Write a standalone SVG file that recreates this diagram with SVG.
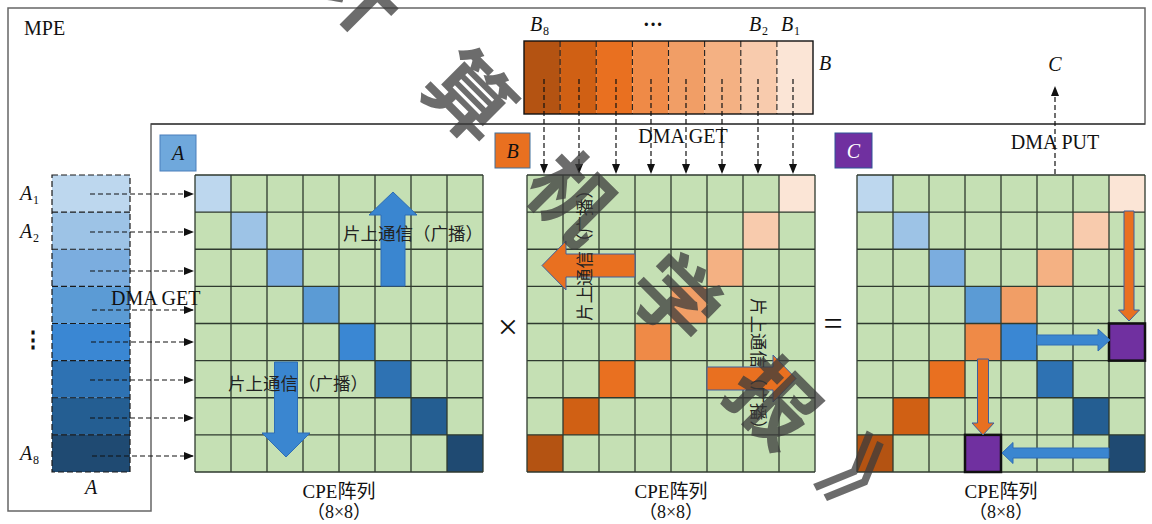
<svg xmlns="http://www.w3.org/2000/svg" xmlns:xlink="http://www.w3.org/1999/xlink" width="1152" height="524" viewBox="0 0 1152 524">
<defs>
<style>
.t{font-family:"Liberation Serif","Noto Sans CJK SC",serif;fill:#111}
.m{font-family:"Liberation Serif",serif;font-style:italic;font-size:20px;fill:#111}
.sub{font-family:"Liberation Serif",serif;font-size:12px;fill:#111}
.cn{font-family:"Liberation Serif","Noto Sans CJK SC",sans-serif;font-size:17.5px;fill:#222}
.dash{fill:none;stroke:#111;stroke-width:1.2;stroke-dasharray:5,3}
.gl{fill:none;stroke:#2f3a2f;stroke-width:1.3}
.green{fill:#C5E0B4}
.barrow{fill:#3A86D0;stroke:#2E6DB4;stroke-width:1}
.oarrow{fill:#E97020;stroke:#3F5F9C;stroke-width:1}
.wm{font-family:"Noto Sans CJK SC",sans-serif;font-size:85px;font-weight:700;fill:#3c3c3c;opacity:0.75}
</style>
<marker id="ah" markerWidth="10" markerHeight="8" refX="10" refY="4" orient="auto" markerUnits="userSpaceOnUse">
<path d="M0,0 L10,4 L0,8 z" fill="#111"/>
</marker>
<path id="gridlines" class="gl" d="M0 0V297M36 0V297M72 0V297M108 0V297M144 0V297M180 0V297M216 0V297M252 0V297M288 0V297M0 0H288M0 37.125H288M0 74.25H288M0 111.375H288M0 148.5H288M0 185.625H288M0 222.75H288M0 259.875H288M0 297H288"/>
</defs>
<rect width="1152" height="524" fill="#fff"/>

<g id="MPE">
<path d="M8 8H1145V124H151V511H8Z" fill="none" stroke="#666" stroke-width="1.5"/>
<path d="M151 124H1145" stroke="#222" stroke-width="1"/>
<text class="t" x="24" y="35" font-size="20">MPE</text>
</g>

<g id="A-vector">
<rect x="52" y="175" width="78" height="37.125" fill="#BDD7EE"/>
<rect x="52" y="212.125" width="78" height="37.125" fill="#9DC3E6"/>
<rect x="52" y="249.25" width="78" height="37.125" fill="#7BADDF"/>
<rect x="52" y="286.375" width="78" height="37.125" fill="#5B9BD5"/>
<rect x="52" y="323.5" width="78" height="37.125" fill="#3A87D3"/>
<rect x="52" y="360.625" width="78" height="37.125" fill="#2E72B3"/>
<rect x="52" y="397.75" width="78" height="37.125" fill="#245E92"/>
<rect x="52" y="434.875" width="78" height="37.125" fill="#1F4A72"/>
<path d="M52 212.125H130M52 249.25H130M52 286.375H130M52 323.5H130M52 360.625H130M52 397.75H130M52 434.875H130M52 175H130V472H52Z" fill="none" stroke="#1a1a1a" stroke-width="1.2" stroke-dasharray="6,3"/>
<text class="m" x="20" y="200">A</text><text class="sub" x="33" y="204">1</text>
<text class="m" x="20" y="238">A</text><text class="sub" x="33" y="242">2</text>
<text class="t" x="33" y="347" font-size="22" font-weight="bold" text-anchor="middle">⋮</text>
<text class="m" x="20" y="460">A</text><text class="sub" x="33" y="464">8</text>
<text class="m" x="91" y="494" text-anchor="middle">A</text>
</g>

<g id="B-vector">
<rect x="524" y="41" width="36.2" height="73" fill="#B45312"/>
<rect x="560.1" y="41" width="36.2" height="73" fill="#D06014"/>
<rect x="596.2" y="41" width="36.2" height="73" fill="#E97020"/>
<rect x="632.4" y="41" width="36.2" height="73" fill="#EF8A47"/>
<rect x="668.5" y="41" width="36.2" height="73" fill="#F19E66"/>
<rect x="704.6" y="41" width="36.2" height="73" fill="#F4B183"/>
<rect x="740.8" y="41" width="36.2" height="73" fill="#F8CBAD"/>
<rect x="776.9" y="41" width="36.1" height="73" fill="#FBE5D6"/>
<path d="M560.1 41V114M596.2 41V114M632.4 41V114M668.5 41V114M704.6 41V114M740.8 41V114M776.9 41V114" fill="none" stroke="#222" stroke-width="1.1" stroke-dasharray="6,3"/>
<rect x="524" y="41" width="289" height="73" fill="none" stroke="#111" stroke-width="1.4"/>
<text class="m" x="530" y="31">B</text><text class="sub" x="543" y="35">8</text>
<text class="t" x="653" y="31" font-size="20" text-anchor="middle" font-weight="bold">···</text>
<text class="m" x="749" y="31">B</text><text class="sub" x="762" y="35">2</text>
<text class="m" x="781" y="31">B</text><text class="sub" x="794" y="35">1</text>
<text class="m" x="819" y="70">B</text>
</g>

<g id="C-result">
<text class="m" x="1055" y="71" text-anchor="middle">C</text>
</g>

<g id="grid-A">
<g transform="translate(195,175)">
<rect class="green" width="288" height="297"/>
<rect x="0" y="0" width="36" height="37.125" fill="#BDD7EE"/>
<rect x="36" y="37.125" width="36" height="37.125" fill="#9DC3E6"/>
<rect x="72" y="74.25" width="36" height="37.125" fill="#7BADDF"/>
<rect x="108" y="111.375" width="36" height="37.125" fill="#5B9BD5"/>
<rect x="144" y="148.5" width="36" height="37.125" fill="#3A87D3"/>
<rect x="180" y="185.625" width="36" height="37.125" fill="#2E72B3"/>
<rect x="216" y="222.75" width="36" height="37.125" fill="#245E92"/>
<rect x="252" y="259.875" width="36" height="37.125" fill="#1F4A72"/>
<use xlink:href="#gridlines"/>
</g>
<rect x="160" y="135" width="36" height="36" fill="#6FA8DC" stroke="#4A7EBB" stroke-width="1"/>
<text class="m" x="178" y="160" text-anchor="middle">A</text>
<polygon class="barrow" points="381,286 405,286 405,215 417,215 393,192 369,215 381,215"/>
<polygon class="barrow" points="274.5,362 297.5,362 297.5,433 310,433 286,457 262,433 274.5,433"/>
<text class="cn" x="343" y="240">片上通信（广播）</text>
<text class="cn" x="228" y="390">片上通信（广播）</text>
<text class="t" x="339" y="498" font-size="19" text-anchor="middle">CPE阵列</text>
<text class="t" x="339" y="518" font-size="18" text-anchor="middle">（8×8）</text>
</g>

<g id="grid-B">
<g transform="translate(527,175)">
<rect class="green" width="288" height="297"/>
<rect x="252" y="0" width="36" height="37.125" fill="#FBE5D6"/>
<rect x="216" y="37.125" width="36" height="37.125" fill="#F8CBAD"/>
<rect x="180" y="74.25" width="36" height="37.125" fill="#F4B183"/>
<rect x="144" y="111.375" width="36" height="37.125" fill="#F19E66"/>
<rect x="108" y="148.5" width="36" height="37.125" fill="#EF8A47"/>
<rect x="72" y="185.625" width="36" height="37.125" fill="#E97020"/>
<rect x="36" y="222.75" width="36" height="37.125" fill="#D06014"/>
<rect x="0" y="259.875" width="36" height="37.125" fill="#B45312"/>
<use xlink:href="#gridlines"/>
</g>
<rect x="495" y="133" width="35" height="35" fill="#E97020" stroke="#41719C" stroke-width="1"/>
<text class="m" x="512.5" y="158" text-anchor="middle">B</text>
<polygon class="oarrow" points="635,254 635,277 566,277 566,290 542,265.5 566,241 566,254"/>
<polygon class="oarrow" points="707,367 707,390 773,390 773,402 796,378.5 773,355 773,367"/>
<text class="cn" transform="translate(585,251) rotate(-90)" text-anchor="middle" dominant-baseline="central">片上通信（广播）</text>
<text class="cn" transform="translate(758,368) rotate(90)" text-anchor="middle" dominant-baseline="central">片上通信（广播）</text>
<text class="t" x="671" y="498" font-size="19" text-anchor="middle">CPE阵列</text>
<text class="t" x="671" y="518" font-size="18" text-anchor="middle">（8×8）</text>
</g>

<g id="grid-C">
<g transform="translate(857,175)">
<rect class="green" width="288" height="297"/>
<rect x="0" y="0" width="36" height="37.125" fill="#BDD7EE"/>
<rect x="36" y="37.125" width="36" height="37.125" fill="#9DC3E6"/>
<rect x="72" y="74.25" width="36" height="37.125" fill="#7BADDF"/>
<rect x="108" y="111.375" width="36" height="37.125" fill="#5B9BD5"/>
<rect x="144" y="148.5" width="36" height="37.125" fill="#3A87D3"/>
<rect x="180" y="185.625" width="36" height="37.125" fill="#2E72B3"/>
<rect x="216" y="222.75" width="36" height="37.125" fill="#245E92"/>
<rect x="252" y="259.875" width="36" height="37.125" fill="#1F4A72"/>
<rect x="252" y="0" width="36" height="37.125" fill="#FBE5D6"/>
<rect x="216" y="37.125" width="36" height="37.125" fill="#F8CBAD"/>
<rect x="180" y="74.25" width="36" height="37.125" fill="#F4B183"/>
<rect x="144" y="111.375" width="36" height="37.125" fill="#F19E66"/>
<rect x="108" y="148.5" width="36" height="37.125" fill="#EF8A47"/>
<rect x="72" y="185.625" width="36" height="37.125" fill="#E97020"/>
<rect x="36" y="222.75" width="36" height="37.125" fill="#D06014"/>
<rect x="0" y="259.875" width="36" height="37.125" fill="#B45312"/>
<use xlink:href="#gridlines"/>
<rect x="252" y="148.5" width="36" height="37.125" fill="#7030A0" stroke="#111" stroke-width="2.5"/>
<rect x="108" y="259.875" width="36" height="37.125" fill="#7030A0" stroke="#111" stroke-width="2.5"/>
</g>
<rect x="835" y="133" width="37" height="35" fill="#7030A0" stroke="#2F5597" stroke-width="1"/>
<text class="m" x="853.5" y="158" text-anchor="middle" style="fill:#fff">C</text>
<polygon class="oarrow" points="1124,211 1134,211 1134,310 1139.5,310 1129,321 1118.5,310 1124,310"/>
<polygon class="barrow" points="1037,335 1098,335 1098,329 1110,340 1098,351 1098,345 1037,345"/>
<polygon class="oarrow" points="977.5,359 988.5,359 988.5,423 994,423 983,435 972,423 977.5,423"/>
<polygon class="barrow" points="1109,448 1013,448 1013,442.5 1002,453 1013,463.5 1013,458 1109,458"/>
<text class="t" x="1001" y="498" font-size="19" text-anchor="middle">CPE阵列</text>
<text class="t" x="1001" y="518" font-size="18" text-anchor="middle">（8×8）</text>
</g>

<g id="operators">
<text class="t" x="508" y="339" font-size="36" text-anchor="middle">×</text>
<text class="t" x="833" y="335" font-size="34" text-anchor="middle">=</text>
</g>

<g id="connectors">
<path class="dash" marker-end="url(#ah)" d="M90 194H194"/>
<path class="dash" marker-end="url(#ah)" d="M90 232H194"/>
<path class="dash" marker-end="url(#ah)" d="M90 271H194"/>
<path class="dash" marker-end="url(#ah)" d="M92 310H194"/>
<path class="dash" marker-end="url(#ah)" d="M91 342H194"/>
<path class="dash" marker-end="url(#ah)" d="M90 380H194"/>
<path class="dash" marker-end="url(#ah)" d="M90 418H194"/>
<path class="dash" marker-end="url(#ah)" d="M92 456H194"/>
<path class="dash" marker-end="url(#ah)" d="M544 79V174"/>
<path class="dash" marker-end="url(#ah)" d="M579 79V174"/>
<path class="dash" marker-end="url(#ah)" d="M616 79V174"/>
<path class="dash" marker-end="url(#ah)" d="M651 79V174"/>
<path class="dash" marker-end="url(#ah)" d="M686 79V174"/>
<path class="dash" marker-end="url(#ah)" d="M722 79V174"/>
<path class="dash" marker-end="url(#ah)" d="M758 79V174"/>
<path class="dash" marker-end="url(#ah)" d="M793 79V174"/>
<path class="dash" marker-end="url(#ah)" d="M1055 174V86"/>
<text class="t" x="111" y="305" font-size="20">DMA GET</text>
<text class="t" x="683" y="143" font-size="20" text-anchor="middle">DMA GET</text>
<text class="t" x="1055" y="149" font-size="20" text-anchor="middle">DMA PUT</text>
</g>

<g id="watermark">
<text class="wm" transform="translate(365,-14) rotate(45)" text-anchor="middle" dominant-baseline="central">计</text>
<text class="wm" transform="translate(474,92) rotate(45)" text-anchor="middle" dominant-baseline="central">算</text>
<text class="wm" transform="translate(577,193) rotate(45)" text-anchor="middle" dominant-baseline="central">机</text>
<text class="wm" transform="translate(680,294) rotate(45)" text-anchor="middle" dominant-baseline="central">学</text>
<text class="wm" transform="translate(778,398) rotate(45)" text-anchor="middle" dominant-baseline="central">报</text>
<text class="wm" transform="translate(872,482) rotate(45)" text-anchor="middle" dominant-baseline="central">》</text>
</g>
</svg>
